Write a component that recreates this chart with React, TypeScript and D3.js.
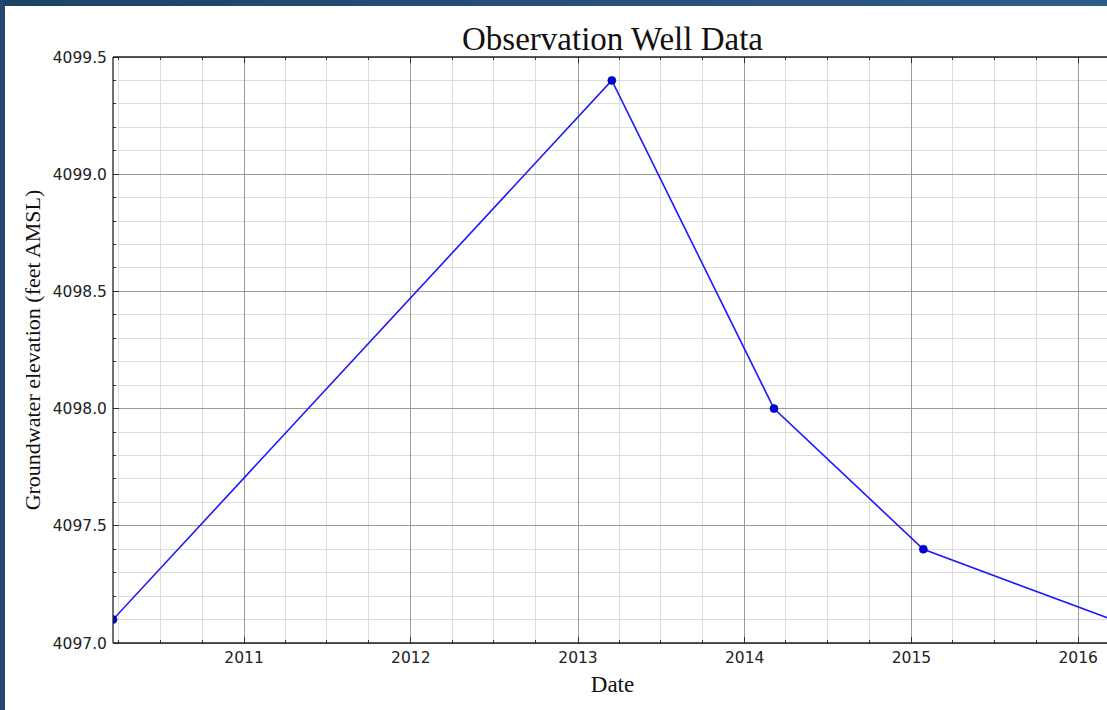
import React from "react";
import * as d3 from "d3";

// ---- data ----
const obsDates: string[] = ["2010-03-20", "2013-03-16", "2014-03-06", "2015-01-27", "2016-03-15"];
const obsElevation: number[] = [4097.1, 4099.4, 4098.0, 4097.4, 4097.1];
const yMajorTicks: number[] = [4097.0, 4097.5, 4098.0, 4098.5, 4099.0, 4099.5];
const xMajorYears: number[] = [2011, 2012, 2013, 2014, 2015, 2016];
const yDomain: [number, number] = [4097.0, 4099.5];
const titleText = "Observation Well Data";
const xLabelText = "Date";
const yLabelText = "Groundwater elevation (feet AMSL)";

const W = 1107;
const H = 710;
const M = { left: 113, top: 57, right: 1112, bottom: 643 };

export default function App() {
  const parsed = obsDates.map((d) => new Date(d + "T00:00:00Z"));
  const x = d3
    .scaleUtc()
    .domain([parsed[0], parsed[parsed.length - 1]])
    .range([M.left, M.right]);
  const y = d3.scaleLinear().domain(yDomain).range([M.bottom, M.top]);

  const pts = parsed.map((d, i) => ({ d, v: obsElevation[i] }));
  const line = d3
    .line<{ d: Date; v: number }>()
    .x((p) => x(p.d))
    .y((p) => y(p.v));

  const xMinor = d3.utcMonth
    .every(3)!
    .range(x.domain()[0], x.domain()[1])
    .filter((d) => d.getUTCMonth() !== 0);
  const xMajor = xMajorYears.map((yr) => new Date(Date.UTC(yr, 0, 1)));
  const yMinor = d3.range(0, 26).map((i) => yDomain[0] + i * 0.1).filter((v, i) => i % 5 !== 0);

  const sans = "'DejaVu Sans', sans-serif";
  const serif = "'Liberation Serif', 'Times New Roman', serif";

  return (
    <svg
      width={W}
      height={H}
      style={{ position: "absolute", left: 0, top: 0, background: "#fff" }}
    >
      <defs>
        <linearGradient id="topbar" x1="0" x2="1" y1="0" y2="0">
          <stop offset="0" stopColor="#1f4268" />
          <stop offset="1" stopColor="#2e5c8a" />
        </linearGradient>
        <clipPath id="plotclip">
          <rect x={M.left} y={M.top} width={M.right - M.left} height={M.bottom - M.top} />
        </clipPath>
      </defs>
      <rect x={0} y={0} width={W} height={H} fill="#fff" />

      {/* minor grid */}
      <g stroke="#dcdcdc" strokeWidth={1} shapeRendering="crispEdges">
        {xMinor.map((d, i) => (
          <line key={"xm" + i} x1={x(d)} x2={x(d)} y1={M.top} y2={M.bottom} />
        ))}
        {yMinor.map((v, i) => (
          <line key={"ym" + i} x1={M.left} x2={M.right} y1={y(v)} y2={y(v)} />
        ))}
      </g>
      {/* major grid */}
      <g stroke="#9a9a9a" strokeWidth={1} shapeRendering="crispEdges">
        {xMajor.map((d, i) => (
          <line key={"xM" + i} x1={x(d)} x2={x(d)} y1={M.top} y2={M.bottom} />
        ))}
        {yMajorTicks.map((v, i) => (
          <line key={"yM" + i} x1={M.left} x2={M.right} y1={y(v)} y2={y(v)} />
        ))}
      </g>

      {/* ticks (inward) */}
      <g stroke="#333" strokeWidth={1} shapeRendering="crispEdges">
        {xMajor.map((d, i) => (
          <g key={"xt" + i}>
            <line x1={x(d)} x2={x(d)} y1={M.bottom} y2={M.bottom - 6} />
            <line x1={x(d)} x2={x(d)} y1={M.top} y2={M.top + 6} />
          </g>
        ))}
        {xMinor.map((d, i) => (
          <g key={"xmt" + i}>
            <line x1={x(d)} x2={x(d)} y1={M.bottom} y2={M.bottom - 3} />
            <line x1={x(d)} x2={x(d)} y1={M.top} y2={M.top + 3} />
          </g>
        ))}
        {yMajorTicks.map((v, i) => (
          <line key={"yt" + i} x1={M.left} x2={M.left + 6} y1={y(v)} y2={y(v)} />
        ))}
        {yMinor.map((v, i) => (
          <line key={"ymt" + i} x1={M.left} x2={M.left + 3} y1={y(v)} y2={y(v)} />
        ))}
      </g>

      {/* data */}
      <g clipPath="url(#plotclip)">
        <path d={line(pts) || ""} fill="none" stroke="#1a1aff" strokeWidth={1.6} />
        {pts.map((p, i) => (
          <circle
            key={"pt" + i}
            cx={x(p.d)}
            cy={y(p.v)}
            r={4}
            fill="#0000e6"
            stroke="#000050"
            strokeWidth={0.6}
          />
        ))}
      </g>

      {/* spines */}
      <g stroke="#222" strokeWidth={1.3} fill="none">
        <line x1={M.left} x2={M.left} y1={M.top} y2={M.bottom} />
        <line x1={M.left} x2={M.right} y1={M.top} y2={M.top} />
        <line x1={M.left} x2={M.right} y1={M.bottom} y2={M.bottom} />
        <line x1={M.right} x2={M.right} y1={M.top} y2={M.bottom} />
      </g>

      {/* tick labels */}
      <g fontFamily={sans} fontSize={15.5} fill="#222">
        {yMajorTicks.map((v, i) => (
          <text key={"yl" + i} x={M.left - 6} y={y(v)} dy="0.36em" textAnchor="end">
            {v.toFixed(1)}
          </text>
        ))}
        {xMajor.map((d, i) => (
          <text key={"xl" + i} x={x(d)} y={M.bottom + 20} textAnchor="middle">
            {xMajorYears[i]}
          </text>
        ))}
      </g>

      {/* titles */}
      <text
        x={(M.left + M.right) / 2}
        y={50}
        textAnchor="middle"
        fontFamily={serif}
        fontSize={33}
        fill="#111"
      >
        {titleText}
      </text>
      <text
        x={(M.left + M.right) / 2}
        y={692}
        textAnchor="middle"
        fontFamily={serif}
        fontSize={23}
        fill="#111"
      >
        {xLabelText}
      </text>
      <text
        transform={`translate(40, ${(M.top + M.bottom) / 2}) rotate(-90)`}
        textAnchor="middle"
        fontFamily={serif}
        fontSize={22}
        fill="#111"
      >
        {yLabelText}
      </text>

      {/* frame */}
      <rect x={0} y={0} width={W} height={6} fill="url(#topbar)" />
      <rect x={0} y={0} width={5} height={H} fill="#224870" />
    </svg>
  );
}
